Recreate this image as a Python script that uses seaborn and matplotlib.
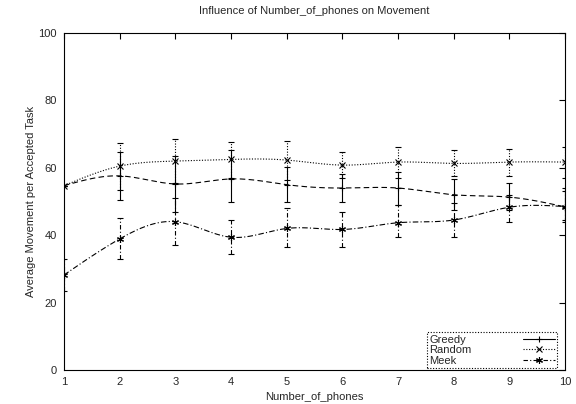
import numpy as np
import pandas as pd
import matplotlib
matplotlib.use("Agg")
import matplotlib.pyplot as plt
import seaborn as sns
from matplotlib.lines import Line2D

phones = [1, 2, 3, 4, 5, 6, 7, 8, 9, 10]
greedy_mean = [54.7, 57.6, 55.2, 56.7, 55.0, 54.0, 54.0, 52.0, 51.3, 48.4]
greedy_low = [54.7, 50.4, 47.0, 50.0, 50.0, 50.0, 49.0, 47.5, 47.5, 44.5]
greedy_high = [54.7, 64.7, 63.5, 65.3, 60.1, 58.3, 58.9, 56.6, 55.6, 54.0]
random_mean = [54.7, 60.5, 62.0, 62.5, 62.3, 60.8, 61.7, 61.3, 61.7, 61.7]
random_low = [54.7, 53.5, 55.5, 57.0, 56.5, 57.0, 57.0, 57.5, 57.5, 57.0]
random_high = [54.7, 67.3, 68.5, 67.8, 68.0, 64.8, 66.2, 65.3, 65.6, 66.3]
meek_mean = [28.2, 38.9, 44.0, 39.4, 42.0, 41.7, 43.7, 44.5, 48.3, 48.5]
meek_low = [23.5, 33.0, 37.0, 34.4, 36.6, 36.6, 39.4, 39.4, 44.0, 44.0]
meek_high = [33.0, 45.0, 51.0, 44.5, 48.0, 47.0, 49.0, 49.5, 52.0, 53.0]
series_names = ["Greedy", "Random", "Meek"]
x_ticks = [1, 2, 3, 4, 5, 6, 7, 8, 9, 10]
y_ticks = [0, 20, 40, 60, 80, 100]


def natural_spline(x, y, xs):
    x = np.asarray(x, float)
    y = np.asarray(y, float)
    n = len(x)
    h = np.diff(x)
    A = np.zeros((n, n))
    b = np.zeros(n)
    A[0, 0] = 1
    A[-1, -1] = 1
    for i in range(1, n - 1):
        A[i, i - 1] = h[i - 1]
        A[i, i] = 2 * (h[i - 1] + h[i])
        A[i, i + 1] = h[i]
        b[i] = 6 * ((y[i + 1] - y[i]) / h[i] - (y[i] - y[i - 1]) / h[i - 1])
    M = np.linalg.solve(A, b)
    out = np.empty_like(xs)
    for k, xv in enumerate(xs):
        i = min(max(np.searchsorted(x, xv) - 1, 0), n - 2)
        t0 = x[i + 1] - xv
        t1 = xv - x[i]
        out[k] = (M[i] * t0 ** 3 / (6 * h[i]) + M[i + 1] * t1 ** 3 / (6 * h[i])
                  + (y[i] / h[i] - M[i] * h[i] / 6) * t0
                  + (y[i + 1] / h[i] - M[i + 1] * h[i] / 6) * t1)
    return out


sns.set_theme(style="white")
plt.rcParams["font.family"] = ["Liberation Sans", "DejaVu Sans"]

DPI = 100
fig = plt.figure(figsize=(5.76, 4.04), dpi=DPI)
ax = fig.add_axes([64 / 576, 1 - 370 / 404, (565 - 64) / 576, (370 - 33) / 404])

means = [greedy_mean, random_mean, meek_mean]
lows = [greedy_low, random_low, meek_low]
highs = [greedy_high, random_high, meek_high]
curve_styles = [(0, (5, 3)), (0, (1, 1.5)), (0, (5, 2, 1, 2))]
bar_styles = ["-", (0, (1, 1.5)), (0, (4, 2, 1, 2))]
markers = ["+", "x", (6, 2, 0)]
lw = 0.8

xs = np.linspace(1, 10, 400)
frames = []
for name, m in zip(series_names, means):
    frames.append(pd.DataFrame({"x": xs, "y": natural_spline(phones, m, xs), "series": name}))
curves = pd.concat(frames, ignore_index=True)

for name, ls in zip(series_names, curve_styles):
    sub = curves[curves["series"] == name]
    sns.lineplot(data=sub, x="x", y="y", ax=ax, color="black", lw=lw,
                 linestyle=ls, sort=False, estimator=None, legend=False)

handles = []
for name, m, lo, hi, bls, mk in zip(series_names, means, lows, highs, bar_styles, markers):
    m = np.asarray(m)
    err = np.vstack([m - np.asarray(lo), np.asarray(hi) - m])
    eb = ax.errorbar(phones, m, yerr=err, fmt="none", ecolor="black",
                     elinewidth=lw, capsize=2.5, capthick=lw)
    for lc in eb[2]:
        lc.set_linestyle(bls)
    ax.plot(phones, m, linestyle="none", marker=mk, color="black",
            markersize=5, markeredgewidth=0.8)
    handles.append(Line2D([0], [0], color="black", lw=lw, linestyle=bls,
                          marker=mk, markersize=5, markeredgewidth=0.8))

ax.set_xlim(1, 10)
ax.set_ylim(0, 100)
ax.set_xticks(x_ticks)
ax.set_yticks(y_ticks)
ax.tick_params(direction="in", length=4, width=0.8, labelsize=8, color="black",
               top=True, right=True, pad=5)
for sp in ax.spines.values():
    sp.set_color("black")
    sp.set_linewidth(0.8)
ax.set_xlabel("Number_of_phones", fontsize=8, labelpad=4)
ax.set_ylabel("Average Movement per Accepted Task", fontsize=8, labelpad=2)
ax.set_title("Influence of Number_of_phones on Movement", fontsize=8, pad=14)

leg = ax.legend(handles, series_names, loc="lower right", fontsize=8,
                bbox_to_anchor=((557 - 64) / 501, 2 / 337), borderaxespad=0,
                markerfirst=False, handlelength=2.9, handletextpad=4.6,
                labelspacing=0.05, borderpad=0.2,
                fancybox=False, frameon=True)
fr = leg.get_frame()
fr.set_edgecolor("black")
fr.set_linestyle((0, (1, 1.5)))
fr.set_linewidth(0.8)
fr.set_alpha(1)

# left-align legend texts (gnuplot style) by widening the gap for shorter labels
fig.canvas.draw()
renderer = fig.canvas.get_renderer()
texts = leg.get_texts()
widths = [t.get_window_extent(renderer).width for t in texts]
maxw = max(widths)
try:
    column = leg._legend_handle_box.get_children()[0]
    for item, w in zip(column.get_children(), widths):
        item.sep = item.sep + (maxw - w) * 72.0 / DPI
except Exception:
    pass

fig.savefig("out.png", dpi=DPI)
